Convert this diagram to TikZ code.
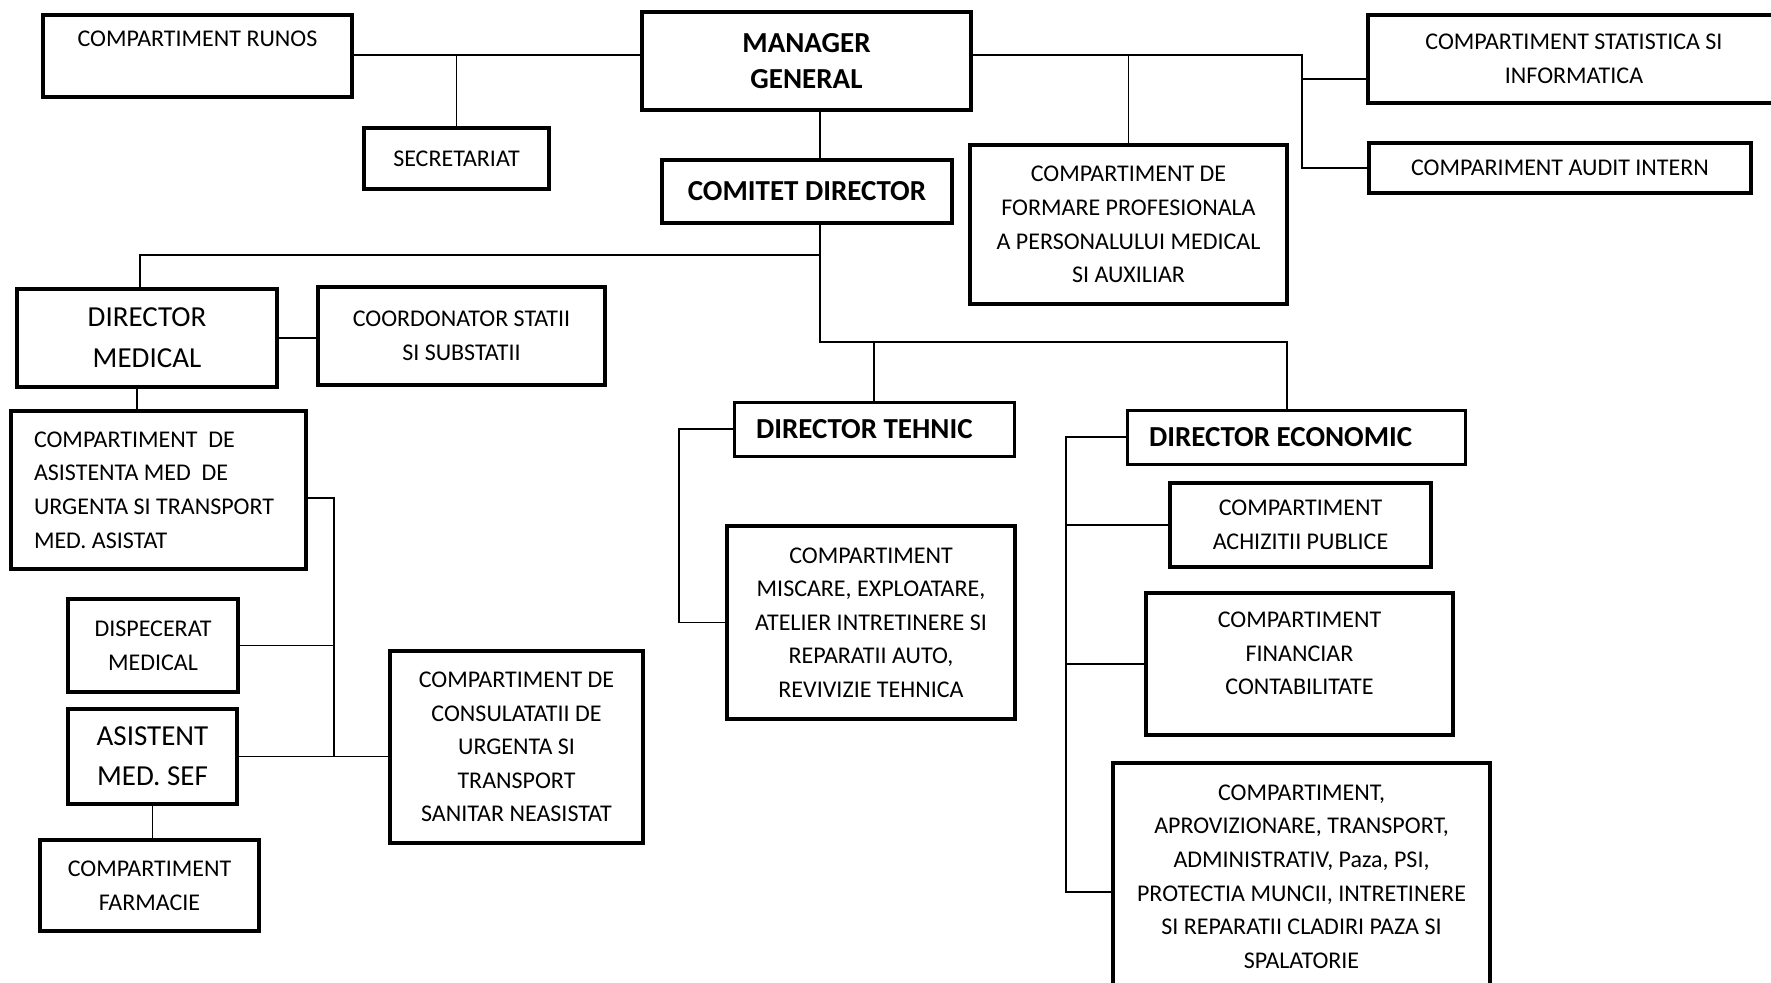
\documentclass[tikz,border=0pt]{standalone}
\usepackage{fontspec}
\setmainfont{Carlito}
\usepackage{tikz}
\tikzstyle{box} = [rectangle, draw=black, line width=2pt, align=center, inner sep=0pt, font=\fontsize{12}{16.8}\selectfont]
\tikzstyle{headbox} = [box, font=\fontsize{14.5}{18}\selectfont\bfseries]
\tikzstyle{dirbox} = [box, line width=1.5pt, align=flush left, inner xsep=11pt, font=\fontsize{14.5}{18}\selectfont\bfseries]
\tikzstyle{bigbox} = [box, font=\fontsize{14.5}{20.5}\selectfont]
\tikzstyle{link} = [line width=0.8pt]

\begin{document}
\begin{tikzpicture}[x=0.5pt, y=-0.5pt]
        \useasboundingbox (0,0) rectangle (1771,982);

        % top row
        \node (runos) [box, minimum width=154.5pt, minimum height=41pt] at (197.5,56) {COMPARTIMENT RUNOS\\ \mbox{}};
        \node (manager) [headbox, minimum width=164.5pt, minimum height=49pt] at (806.5,61) {MANAGER\\GENERAL};
        \node (stat) [box, minimum width=206pt, minimum height=44pt] at (1574,59) {COMPARTIMENT STATISTICA SI\\INFORMATICA};
        \node (secr) [box, minimum width=92.5pt, minimum height=30.5pt] at (456.5,158.5) {SECRETARIAT};
        \node (comitet) [headbox, minimum width=145pt, minimum height=31.5pt] at (807,191.5) {COMITET DIRECTOR};
        \node (formare) [box, minimum width=158.5pt, minimum height=79.5pt] at (1128.5,224.5) {COMPARTIMENT DE\\FORMARE PROFESIONALA\\A PERSONALULUI MEDICAL\\SI AUXILIAR};
        \node (audit) [box, minimum width=191pt, minimum height=25pt] at (1560,168) {COMPARIMENT AUDIT INTERN};

        % medical side
        \node (dm) [bigbox, minimum width=130pt, minimum height=49pt] at (147,338) {DIRECTOR\\MEDICAL};
        \node (coord) [box, minimum width=143.5pt, minimum height=49pt] at (461.5,336) {COORDONATOR STATII\\SI SUBSTATII};
        \node (asistenta) [box, align=flush left, inner xsep=11.5pt, text width=124.5pt, minimum height=79pt] at (158.5,490) {COMPARTIMENT~ DE\\ASISTENTA MED~ DE\\URGENTA SI TRANSPORT\\MED. ASISTAT};
        \node (dispecerat) [box, minimum width=85pt, minimum height=46.5pt] at (153,645.5) {DISPECERAT\\MEDICAL};
        \node (asistsef) [bigbox, font=\fontsize{14.5}{20}\selectfont, minimum width=84.5pt, minimum height=47.5pt] at (152.5,756.5) {ASISTENT\\MED. SEF};
        \node (farmacie) [box, minimum width=109.5pt, minimum height=45.5pt] at (149.5,885.5) {COMPARTIMENT\\FARMACIE};
        \node (consult) [box, minimum width=126.5pt, minimum height=96pt] at (516.5,747) {COMPARTIMENT DE\\CONSULATATII DE\\URGENTA SI\\TRANSPORT\\SANITAR NEASISTAT};

        % tehnic side
        \node (tehnic) [dirbox, text width=118pt, minimum height=27pt] at (874,429) {DIRECTOR TEHNIC};
        \node (miscare) [box, minimum width=144pt, minimum height=96.5pt] at (871,622.5) {COMPARTIMENT\\MISCARE, EXPLOATARE,\\ATELIER INTRETINERE SI\\REPARATII AUTO,\\REVIVIZIE TEHNICA};

        % economic side
        \node (economic) [dirbox, text width=147pt, minimum height=27pt] at (1296,437) {DIRECTOR ECONOMIC};
        \node (achizitii) [box, minimum width=130.5pt, minimum height=42pt] at (1300.5,525) {COMPARTIMENT\\ACHIZITII PUBLICE};
        \node (financiar) [box, minimum width=153.5pt, minimum height=71pt] at (1299.5,664) {COMPARTIMENT\\FINANCIAR\\CONTABILITATE\\[-6pt]\mbox{}};
        \node (aproviz) [box, minimum width=188.5pt, minimum height=113.5pt] at (1301.5,876.5) {COMPARTIMENT,\\APROVIZIONARE, TRANSPORT,\\ADMINISTRATIV, Paza, PSI,\\PROTECTIA MUNCII, INTRETINERE\\SI REPARATII CLADIRI PAZA SI\\SPALATORIE};

        % bus points
        \coordinate (rbus) at (1302,55);
        \coordinate (cbus) at (820,255);
        \coordinate (tbus) at (820,342);
        \coordinate (ebus) at (1287,342);
        \coordinate (dmtop) at (140,255);
        \coordinate (mline) at (137,400);
        \coordinate (tleft) at (679,500);
        \coordinate (eleft) at (1066,500);
        \coordinate (ebot) at (1066,892);
        \coordinate (lbus) at (334,498);

        \draw [link] (runos.east |- rbus) -- (rbus -| manager.west);
        \draw [link] (secr.north) -- (secr.north |- rbus);
        \draw [link] (manager.east |- rbus) -- (rbus) |- (audit.west);
        \draw [link] (rbus |- 0,79) -- (stat.west |- 0,79);
        \draw [link] (formare.north) -- (formare.north |- rbus);
        \draw [link] (manager.south -| cbus) -- (comitet.north -| cbus);
        \draw [link] (comitet.south -| cbus) -- (tbus) -- (ebus) -- (ebus |- economic.north);
        \draw [link] (cbus) -- (dmtop) -- (dmtop |- dm.north);
        \draw [link] (tbus -| tehnic.north) -- (tehnic.north);
        \draw [link] (tehnic.west) -| (tleft) |- (miscare.west);
        \draw [link] (economic.west) -| (ebot) -- (ebot -| aproviz.west);
        \draw [link] (eleft |- achizitii.west) -- (achizitii.west);
        \draw [link] (eleft |- financiar.west) -- (financiar.west);
        \draw [link] (dm.south -| mline) -- (asistenta.north -| mline);
        \draw [link] (dm.east) -- (dm.east -| coord.west);
        \draw [link] (asistenta.east |- lbus) -- (lbus) -- (lbus |- asistsef.east);
        \draw [link] (dispecerat.east) -- (dispecerat.east -| lbus);
        \draw [link] (asistsef.east) -- (asistsef.east -| consult.west);
        \draw [link] (asistsef.south) -- (asistsef.south |- farmacie.north);

      \end{tikzpicture}
\end{document}
